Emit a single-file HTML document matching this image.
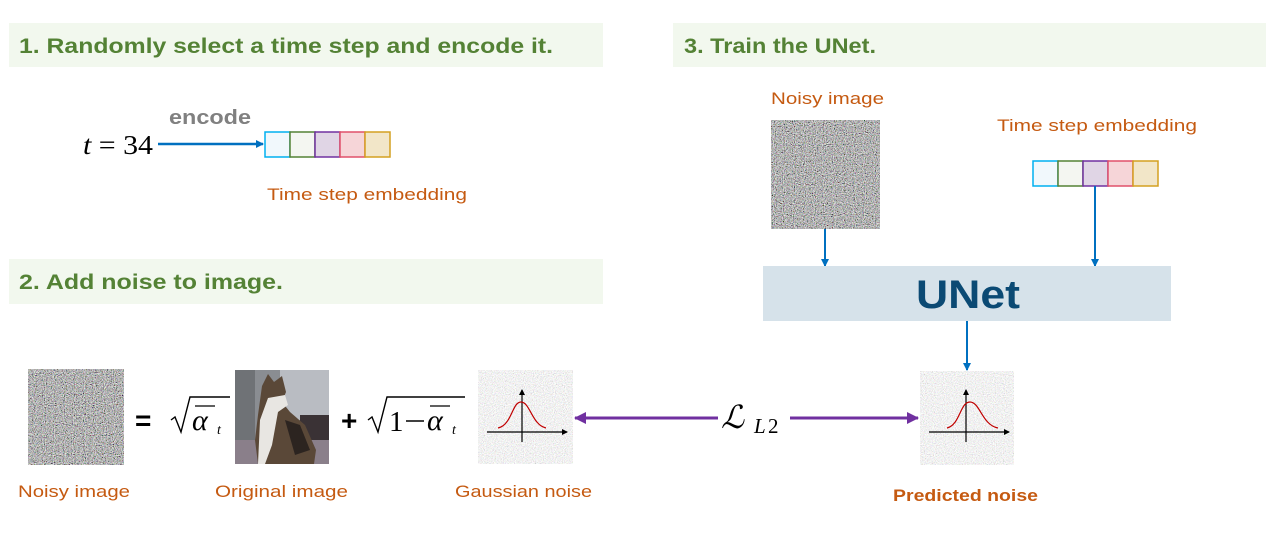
<!DOCTYPE html>
<html><head><meta charset="utf-8"><style>
html,body{margin:0;padding:0;background:#fff;width:1266px;height:539px;overflow:hidden}
svg{display:block}
.h{font-family:"Liberation Sans",sans-serif;font-weight:bold;fill:#548235;font-size:21px}
.o{font-family:"Liberation Sans",sans-serif;fill:#c55a11;font-size:17px}
.m{font-family:"Liberation Serif",serif;font-style:italic}
</style></head><body>
<svg width="1266" height="539" viewBox="0 0 1266 539" xmlns="http://www.w3.org/2000/svg">
<defs>
<filter id="nz" x="0" y="0" width="100%" height="100%"><feTurbulence type="fractalNoise" baseFrequency="0.9" numOctaves="2" seed="3"/><feColorMatrix type="matrix" values="1.2 0.6 0.6 0 -0.75  0.6 1.2 0.6 0 -0.75  0.6 0.6 1.2 0 -0.75  0 0 0 0 1"/></filter>
<filter id="nzl" x="0" y="0" width="100%" height="100%"><feTurbulence type="fractalNoise" baseFrequency="0.9" numOctaves="2" seed="7"/><feColorMatrix type="matrix" values="0.7 0.25 0.25 0 0.28  0.25 0.7 0.25 0 0.28  0.25 0.25 0.7 0 0.28  0 0 0 0 1"/></filter>
<marker id="ab" markerWidth="8" markerHeight="8" refX="7" refY="4" orient="auto" markerUnits="userSpaceOnUse"><path d="M0,0 L8,4 L0,8z" fill="#0070c0"/></marker>
<marker id="ap" markerWidth="12" markerHeight="12" refX="11" refY="6" orient="auto" markerUnits="userSpaceOnUse"><path d="M0,0 L12,6 L0,12z" fill="#7030a0"/></marker>
<marker id="ak" markerWidth="6" markerHeight="6" refX="5" refY="3" orient="auto" markerUnits="userSpaceOnUse"><path d="M0,0 L6,3 L0,6z" fill="#000"/></marker>
</defs>
<rect x="9" y="23" width="594" height="44" fill="#f2f8ee"/>
<text x="19" y="53" class="h" textLength="534" lengthAdjust="spacingAndGlyphs">1. Randomly select a time step and encode it.</text>
<rect x="673" y="23" width="593" height="44" fill="#f2f8ee"/>
<text x="684" y="53" class="h" textLength="192" lengthAdjust="spacingAndGlyphs">3. Train the UNet.</text>
<rect x="9" y="259" width="594" height="45" fill="#f2f8ee"/>
<text x="19" y="289" class="h" textLength="264" lengthAdjust="spacingAndGlyphs">2. Add noise to image.</text>
<text x="83" y="154" font-size="27" font-family="Liberation Serif,serif" textLength="70" lengthAdjust="spacingAndGlyphs"><tspan font-style="italic">t</tspan> = 34</text>
<text x="169" y="124" font-family="Liberation Sans,sans-serif" font-weight="bold" font-size="20" fill="#808080" textLength="82" lengthAdjust="spacingAndGlyphs">encode</text>
<line x1="158" y1="144" x2="263" y2="144" stroke="#0070c0" stroke-width="2.5" marker-end="url(#ab)"/>
<g stroke-width="1.5">
<rect x="265" y="132" width="25" height="25" fill="#f1f8fc" stroke="#00b0f0"/>
<rect x="290" y="132" width="25" height="25" fill="#f4f6f1" stroke="#548235"/>
<rect x="315" y="132" width="25" height="25" fill="#e0d5e5" stroke="#7030a0"/>
<rect x="340" y="132" width="25" height="25" fill="#f6d5d8" stroke="#e0506a"/>
<rect x="365" y="132" width="25" height="25" fill="#f2e6c8" stroke="#d4a020"/>
</g>
<text x="267" y="200" class="o" textLength="200" lengthAdjust="spacingAndGlyphs">Time step embedding</text>
<text x="771" y="104" class="o" textLength="113" lengthAdjust="spacingAndGlyphs">Noisy image</text>
<rect x="771" y="120" width="109" height="109" fill="#777" filter="url(#nz)"/>
<text x="997" y="131" class="o" textLength="200" lengthAdjust="spacingAndGlyphs">Time step embedding</text>
<g stroke-width="1.5">
<rect x="1033" y="161" width="25" height="25" fill="#f1f8fc" stroke="#00b0f0"/>
<rect x="1058" y="161" width="25" height="25" fill="#f4f6f1" stroke="#548235"/>
<rect x="1083" y="161" width="25" height="25" fill="#e0d5e5" stroke="#7030a0"/>
<rect x="1108" y="161" width="25" height="25" fill="#f6d5d8" stroke="#e0506a"/>
<rect x="1133" y="161" width="25" height="25" fill="#f2e6c8" stroke="#d4a020"/>
</g>
<line x1="825" y1="229" x2="825" y2="266" stroke="#0070c0" stroke-width="2" marker-end="url(#ab)"/>
<line x1="1095" y1="186" x2="1095" y2="266" stroke="#0070c0" stroke-width="2" marker-end="url(#ab)"/>
<rect x="763" y="266" width="408" height="55" fill="#d6e2ea"/>
<text x="968" y="308" text-anchor="middle" font-family="Liberation Sans,sans-serif" font-weight="bold" font-size="40" fill="#0b4a74" textLength="104" lengthAdjust="spacingAndGlyphs">UNet</text>
<line x1="967" y1="321" x2="967" y2="370" stroke="#0070c0" stroke-width="2" marker-end="url(#ab)"/>
<rect x="920" y="371" width="94" height="94" fill="#ddd" filter="url(#nzl)"/>
<line x1="929" y1="432" x2="1009" y2="432" stroke="#000" stroke-width="1.2" marker-end="url(#ak)"/>
<line x1="966" y1="442" x2="966" y2="390" stroke="#000" stroke-width="1.2" marker-end="url(#ak)"/>
<path d="M947,428 C960,425 960,402 970,402 C980,402 982,425 998,428" fill="none" stroke="#c00000" stroke-width="1.2"/>
<text x="893" y="501" class="o" font-weight="bold" textLength="145" lengthAdjust="spacingAndGlyphs">Predicted noise</text>
<rect x="28" y="369" width="96" height="96" fill="#777" filter="url(#nz)"/>
<text x="135" y="430" font-family="Liberation Sans,sans-serif" font-weight="bold" font-size="28">=</text>
<path d="M171,420 l4,-3 l6,15 l9,-35 h40" fill="none" stroke="#000" stroke-width="1.4"/>
<line x1="195" y1="406" x2="215" y2="406" stroke="#000" stroke-width="1.3"/>
<text x="192" y="430" class="m" font-size="30">α</text><text x="217" y="434" class="m" font-size="14">t</text>
<g>
<rect x="235" y="370" width="94" height="94" fill="#8a8d92"/>
<rect x="280" y="370" width="49" height="50" fill="#b9bcc2"/>
<rect x="235" y="370" width="20" height="70" fill="#6f7276"/>
<rect x="300" y="415" width="29" height="30" fill="#3a3235"/>
<rect x="235" y="440" width="94" height="24" fill="#8a7f8a"/>
<path d="M262,386 L268,374 L274,382 L282,376 L286,392 L282,402 L290,412 L305,425 L316,450 L314,464 L258,464 L255,440 L258,415 Z" fill="#5a4838"/>
<path d="M268,398 L285,395 L288,405 L278,412 L272,445 L265,464 L258,464 L260,420 Z" fill="#e8e6e2"/>
<path d="M285,420 L300,425 L310,450 L295,455 Z" fill="#2c2420"/>
</g>
<text x="341" y="430" font-family="Liberation Sans,sans-serif" font-weight="bold" font-size="28">+</text>
<path d="M368,420 l4,-3 l6,15 l9,-35 h78" fill="none" stroke="#000" stroke-width="1.4"/>
<text x="389" y="431" font-family="Liberation Serif,serif" font-size="29">1</text>
<line x1="406" y1="421" x2="424" y2="421" stroke="#000" stroke-width="1.6"/>
<line x1="430" y1="406" x2="450" y2="406" stroke="#000" stroke-width="1.3"/>
<text x="427" y="430" class="m" font-size="30">α</text><text x="452" y="434" class="m" font-size="14">t</text>
<rect x="478" y="370" width="95" height="94" fill="#ddd" filter="url(#nzl)"/>
<line x1="487" y1="432" x2="567" y2="432" stroke="#000" stroke-width="1.2" marker-end="url(#ak)"/>
<line x1="522" y1="442" x2="522" y2="390" stroke="#000" stroke-width="1.2" marker-end="url(#ak)"/>
<path d="M498,428 C512,425 512,402 521,402 C530,402 532,425 546,428" fill="none" stroke="#c00000" stroke-width="1.2"/>
<text x="18" y="497" class="o" textLength="112" lengthAdjust="spacingAndGlyphs">Noisy image</text>
<text x="215" y="497" class="o" textLength="133" lengthAdjust="spacingAndGlyphs">Original image</text>
<text x="455" y="497" class="o" textLength="137" lengthAdjust="spacingAndGlyphs">Gaussian noise</text>
<line x1="718" y1="418" x2="575" y2="418" stroke="#7030a0" stroke-width="3" marker-end="url(#ap)"/>
<line x1="790" y1="418" x2="918" y2="418" stroke="#7030a0" stroke-width="3" marker-end="url(#ap)"/>
<text x="721" y="428" font-family="DejaVu Serif,serif" font-style="italic" font-size="32">ℒ</text>
<text x="754" y="433" class="m" font-size="21">L</text><text x="768" y="433" font-family="Liberation Serif,serif" font-size="21">2</text>
</svg>
</body></html>
